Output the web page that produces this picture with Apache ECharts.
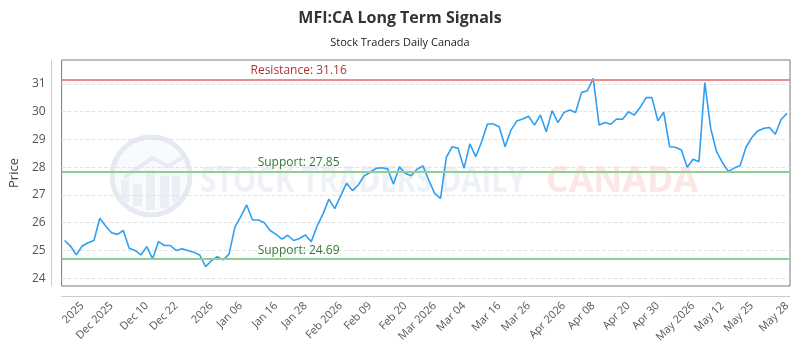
<!DOCTYPE html>
<html>
<head>
<meta charset="utf-8">
<script src="https://cdn.jsdelivr.net/npm/echarts@6/dist/echarts.min.js"></script>
<style>
  html, body { margin: 0; padding: 0; background: #fff; }
  #chart { width: 800px; height: 350px; }
</style>
</head>
<body>
<div id="chart"></div>
<script>
// closing prices, one per session
const prices = [
  25.36, 25.16, 24.84, 25.16, 25.28, 25.36, 26.16, 25.88, 25.64, 25.58,
  25.72, 25.08, 25.00, 24.84, 25.14, 24.70, 25.32, 25.18, 25.18, 25.00,
  25.06, 25.00, 24.94, 24.84, 24.42, 24.63, 24.78, 24.66, 24.87, 25.84,
  26.22, 26.64, 26.10, 26.10, 26.00, 25.72, 25.58, 25.41, 25.55, 25.36,
  25.43, 25.56, 25.32, 25.88, 26.32, 26.85, 26.51, 26.97, 27.42, 27.16,
  27.36, 27.69, 27.81, 27.96, 27.98, 27.94, 27.39, 28.02, 27.78, 27.69,
  27.93, 28.05, 27.54, 27.06, 26.88, 28.36, 28.74, 28.68, 27.96, 28.84,
  28.38, 28.92, 29.56, 29.56, 29.46, 28.74, 29.34, 29.67, 29.74, 29.84,
  29.52, 29.88, 29.28, 30.04, 29.61, 29.97, 30.06, 29.97, 30.69, 30.76,
  31.20, 29.52, 29.61, 29.55, 29.74, 29.73, 30.00, 29.88, 30.16, 30.51,
  30.51, 29.67, 29.98, 28.74, 28.72, 28.62, 28.00, 28.29, 28.20, 31.05,
  29.40, 28.56, 28.17, 27.85, 27.97, 28.05, 28.72, 29.07, 29.31, 29.40,
  29.43, 29.19, 29.73, 29.94
]

// x tick labels and the session index each one sits on
const tickLabels = [
  '2025', 'Dec 2025', 'Dec 10', 'Dec 22', '2026', 'Jan 06', 'Jan 16', 'Jan 28',
  'Feb 2026', 'Feb 09', 'Feb 20', 'Mar 2026', 'Mar 04', 'Mar 16', 'Mar 26',
  'Apr 2026', 'Apr 08', 'Apr 20', 'Apr 30', 'May 2026', 'May 12', 'May 25', 'May 28'
]
const tickIndex = [
  3, 8, 14, 19, 25, 30, 36, 41, 47, 52, 58, 63, 68, 74, 79, 85, 90, 96, 101, 107, 112, 117, 123
]

const resistance = 31.16
const supports = [27.85, 24.69]

const categories = prices.map((_, i) => String(i))
const labelAt = {}
tickIndex.forEach((idx, k) => { labelAt[idx] = tickLabels[k] })

// measure a string so watermark text can be squeezed to width
const measure = (text, font) => {
  const ctx = document.createElement('canvas').getContext('2d')
  ctx.font = font
  return ctx.measureText(text).width
}
const wmFont = 'bold 35px "Open Sans"'
const wm1 = 'STOCK TRADERS DAILY'
const wm2 = 'CANADA'
const wm1Scale = 326 / measure(wm1, wmFont)
const wm2Scale = 152 / measure(wm2, wmFont)

const myChart = echarts.init(document.getElementById('chart'))

const option = {
  animation: false,
  backgroundColor: '#fff',
  textStyle: { fontFamily: '"Open Sans", sans-serif' },
  title: {
    text: 'MFI:CA Long Term Signals',
    subtext: 'Stock Traders Daily Canada',
    left: 'center',
    top: 5,
    itemGap: 11,
    textStyle: {
      fontSize: 16,
      fontWeight: 'bold',
      color: '#333'
    },
    subtextStyle: {
      fontSize: 11,
      color: '#222'
    }
  },
  graphic: [
    {
      type: 'circle',
      z: -10,
      shape: { cx: 151, cy: 176, r: 39 },
      style: { fill: 'rgba(236,240,246,0.35)', stroke: '#e5e9f1', lineWidth: 5 }
    },
    {
      type: 'polyline',
      z: -10,
      shape: { points: [[124, 178], [152, 158], [168, 166], [182, 158]] },
      style: { stroke: '#e7ebf2', lineWidth: 4, fill: null }
    },
    { type: 'rect', z: -10, shape: { x: 121, y: 180, width: 8, height: 22 }, style: { fill: '#ebeef4' } },
    { type: 'rect', z: -10, shape: { x: 133, y: 184, width: 9, height: 22 }, style: { fill: '#ebeef4' } },
    { type: 'rect', z: -10, shape: { x: 146, y: 170, width: 9, height: 40 }, style: { fill: '#ebeef4' } },
    { type: 'rect', z: -10, shape: { x: 160, y: 176, width: 9, height: 32 }, style: { fill: '#ebeef4' } },
    { type: 'rect', z: -10, shape: { x: 172, y: 176, width: 8, height: 26 }, style: { fill: '#ebeef4' } },
    {
      type: 'text',
      z: -10,
      x: 200,
      y: 182,
      scaleX: wm1Scale,
      style: {
        text: wm1,
        font: wmFont,
        fill: '#eef1f6',
        verticalAlign: 'middle'
      }
    },
    {
      type: 'text',
      z: -10,
      x: 546,
      y: 182,
      scaleX: wm2Scale,
      style: {
        text: wm2,
        font: wmFont,
        fill: '#fde6e6',
        verticalAlign: 'middle'
      }
    }
  ],
  grid: {
    left: 60,
    right: 10,
    top: 60,
    bottom: 64,
    show: true,
    borderColor: '#7a7a7a',
    borderWidth: 1
  },
  xAxis: {
    type: 'category',
    data: categories,
    boundaryGap: true,
    offset: 10,
    axisLine: { lineStyle: { color: '#cccccc' } },
    axisTick: { show: false },
    splitLine: { show: false },
    axisLabel: {
      rotate: 45,
      fontSize: 11,
      color: '#555',
      margin: 8,
      interval: (idx) => labelAt[idx] !== undefined,
      formatter: (value, idx) => labelAt[idx] || ''
    }
  },
  yAxis: {
    type: 'value',
    name: 'Price',
    nameLocation: 'middle',
    nameGap: 30,
    nameTextStyle: { fontSize: 13, color: '#444' },
    min: 23.72,
    max: 31.865,
    splitNumber: 8,
    offset: 10,
    axisLine: { show: true, lineStyle: { color: '#cccccc' } },
    axisTick: { show: false },
    axisLabel: {
      fontSize: 12,
      color: '#555',
      margin: 6,
      showMinLabel: false,
      showMaxLabel: false
    },
    splitLine: {
      show: true,
      showMinLine: false,
      showMaxLine: false,
      lineStyle: { color: '#e4e4e4', type: 'dashed' }
    }
  },
  series: [
    {
      name: 'Price',
      type: 'line',
      data: prices,
      symbol: 'none',
      lineStyle: { color: '#2f9ff2', width: 1.6 },
      markLine: {
        silent: true,
        symbol: 'none',
        data: [
          {
            yAxis: resistance,
            lineStyle: { color: '#ef8a8a', width: 2, type: 'solid' },
            label: {
              formatter: 'Resistance: ' + resistance.toFixed(2),
              color: '#b23333'
            }
          },
          ...supports.map(s => ({
            yAxis: s,
            lineStyle: { color: '#8fcf8f', width: 2, type: 'solid' },
            label: {
              formatter: 'Support: ' + s.toFixed(2),
              color: '#2e7d32'
            }
          }))
        ],
        label: {
          position: 'insideStartTop',
          distance: [237, 3],
          align: 'center',
          fontSize: 12
        }
      }
    }
  ]
}

myChart.setOption(option)
window.addEventListener('resize', () => {
  myChart?.resize()
})
</script>
</body>
</html>
